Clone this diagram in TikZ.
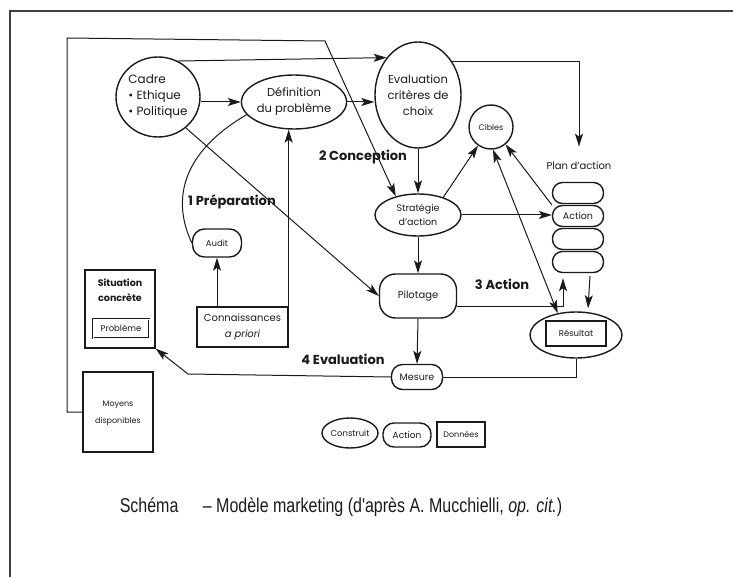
\documentclass[tikz,border=0pt]{standalone}
\usepackage{fontspec}
\setmainfont{Poppins}
\newfontfamily\capfont[FakeStretch=0.8]{Liberation Sans}
\usepackage{xcolor}
\usetikzlibrary{arrows.meta,shapes.geometric,calc}
\definecolor{mucink}{HTML}{1A1A1A}
\definecolor{mucframe}{HTML}{404040}

\tikzset{
  construit/.style={ellipse, draw=mucink, line width=1.4pt, inner sep=0pt, align=center,
    text=mucink, font=\fontsize{11.5}{16}\selectfont},
  actionbox/.style={rectangle, draw=mucink, line width=1.4pt, inner sep=0pt, align=center,
    text=mucink, font=\fontsize{9.5}{11}\selectfont},
  donnee/.style={rectangle, draw=mucink, line width=1.3pt, inner sep=0pt, align=center,
    text=mucink, font=\fontsize{10}{16}\selectfont},
  phase/.style={font=\bfseries\fontsize{13}{15}\selectfont, text=mucink},
  fleche/.style={draw=mucink, line width=1pt, -{Stealth[length=13pt,width=8pt,inset=3pt]}},
  trait/.style={draw=mucink, line width=1pt}
}

\begin{document}
\begin{tikzpicture}[x=1pt,y=-1pt]
  \useasboundingbox (0,0) rectangle (733,577);
  \draw[mucframe, line width=2pt] (10,577) -- (10,11) -- (733,11);

  \node[construit, minimum width=84pt, minimum height=80pt, align=left, font=\fontsize{12}{16}\selectfont] (cadre) at (158,97)
    {Cadre\\ \textbullet\ Ethique\\ \textbullet\ Politique};
  \node[construit, minimum width=104pt, minimum height=54pt] (defin) at (294,102)
    {Définition\\du problème};
  \node[construit, minimum width=72pt, minimum height=106pt] (evalu) at (418,95)
    {Evaluation\\critères de\\choix};
  \node[construit, minimum width=44pt, minimum height=44pt, font=\fontsize{8}{10}\selectfont] (cibles) at (491,127) {Cibles};
  \node[construit, minimum width=86pt, minimum height=42pt, font=\fontsize{9.5}{14}\selectfont] (strat) at (418,215)
    {Stratégie\\d'action};
  \node[actionbox, minimum width=77pt, minimum height=44pt, rounded corners=16pt, font=\fontsize{10}{12}\selectfont] (pilot) at (418,296) {Pilotage};
  \node[actionbox, minimum width=51pt, minimum height=25pt, rounded corners=11pt] (mesure) at (417,377) {Mesure};
  \node[construit, minimum width=92pt, minimum height=46pt] (result) at (576,335) {};
  \node[donnee, minimum width=60pt, minimum height=25pt, font=\fontsize{8.5}{10}\selectfont] (resbox) at (576,333.5) {Résultat};
  \node[actionbox, minimum width=49pt, minimum height=28pt, rounded corners=12pt, font=\fontsize{8.5}{10}\selectfont] (audit) at (217,243) {Audit};
  \node[donnee, minimum width=91pt, minimum height=40pt] (connais) at (242.5,327)
    {Connaissances\\\textit{a priori}};
  \node[donnee, minimum width=70pt, minimum height=78pt] (situ) at (120,309) {};
  \node[font=\bfseries\fontsize{9.5}{15}\selectfont, align=center, text=mucink] (situlbl) at (120,290)
    {Situation\\concrète};
  \node[donnee, double, double distance=1pt, line width=0.6pt, minimum width=56pt, minimum height=19pt,
    font=\fontsize{8.5}{10}\selectfont] (probl) at (121,328.5) {Problème};
  \node[donnee, minimum width=70pt, minimum height=80pt, font=\fontsize{8}{17}\selectfont] (moyens) at (118,412) {};
  \node[font=\fontsize{8}{17}\selectfont, align=center, text=mucink] (moyenslbl) at (118,413)
    {Moyens\\disponibles};

  \node[font=\fontsize{10}{12}\selectfont, text=mucink] (planlbl) at (579,166) {Plan d'action};
  \foreach \y/\t [count=\i] in {193/,216/Action,239/,262/}
    \node[actionbox, minimum width=51pt, minimum height=21pt, rounded corners=10pt] (plan\i) at (578,\y) {\t};

  \node[phase] (prep) at (232,202) {1 Préparation};
  \node[phase] (concep) at (363,157) {2 Conception};
  \node[phase] (actlbl) at (502,284) {3 Action};
  \node[phase] (evallbl) at (343,359) {4 Evaluation};

  \node[construit, minimum width=56pt, minimum height=30pt, font=\fontsize{8.5}{10}\selectfont] (legc) at (350,433) {Construit};
  \node[actionbox, minimum width=48pt, minimum height=24pt, rounded corners=11pt, font=\fontsize{9}{10}\selectfont] (lega) at (407,435) {Action};
  \node[donnee, minimum width=48pt, minimum height=25pt, font=\fontsize{8}{10}\selectfont] (legd) at (461,434.5) {Données};

  \node[font=\capfont\fontsize{20}{24}\selectfont, text=mucink] (caption) at (341,507)
    {Schéma\quad\ – Modèle marketing (d'après A. Mucchielli, \textit{op. cit.})};

  \draw[fleche] (moyens.west) -| (67,38) -- (325,41) -- (strat.140);
  \draw[fleche] (cadre.61) -- (evalu.130);
  \draw[fleche] (cadre.east |- defin.west) -- (defin.west);
  \draw[fleche] (defin.east) -- (defin.east -| evalu.west);
  \draw[fleche] (evalu.45) -| ([yshift=12pt]planlbl.north);
  \draw[fleche] (evalu.south) -- (strat.north);
  \draw[fleche] (strat.35) -- (cibles.235);
  \draw[fleche] (strat.east) -- (strat.east -| plan2.west);
  \draw[fleche] (plan2.north west) -- (cibles.-50);
  \draw[fleche, {Stealth[length=13pt,width=8pt,inset=3pt]}-{Stealth[length=13pt,width=8pt,inset=3pt]}] (cibles.-85) -- (result.130);
  \draw[fleche] (strat.south) -- (pilot.north);
  \draw[fleche] (cadre.-48) -- (pilot.west);
  \draw[fleche] ([yshift=-10pt]pilot.east) -| ([xshift=-15pt,yshift=-5pt]plan4.south);
  \draw[fleche] ([xshift=12pt,yshift=-3pt]plan4.south) -- ([xshift=12pt,yshift=3pt]result.north);
  \draw[fleche] (pilot.south) -- (mesure.north);
  \draw[trait] (result.south) |- (mesure.east);
  \draw[fleche] (mesure.west) -- (188,374) -- (situ.south east);
  \draw[fleche] (connais.north -| audit.south) -- (audit.south);
  \draw[fleche] (connais.north east) -- (connais.north east |- defin.south);
  \draw[trait] (audit.west) to[out=115, in=210, looseness=1.1] (defin.195);
\end{tikzpicture}
\end{document}
